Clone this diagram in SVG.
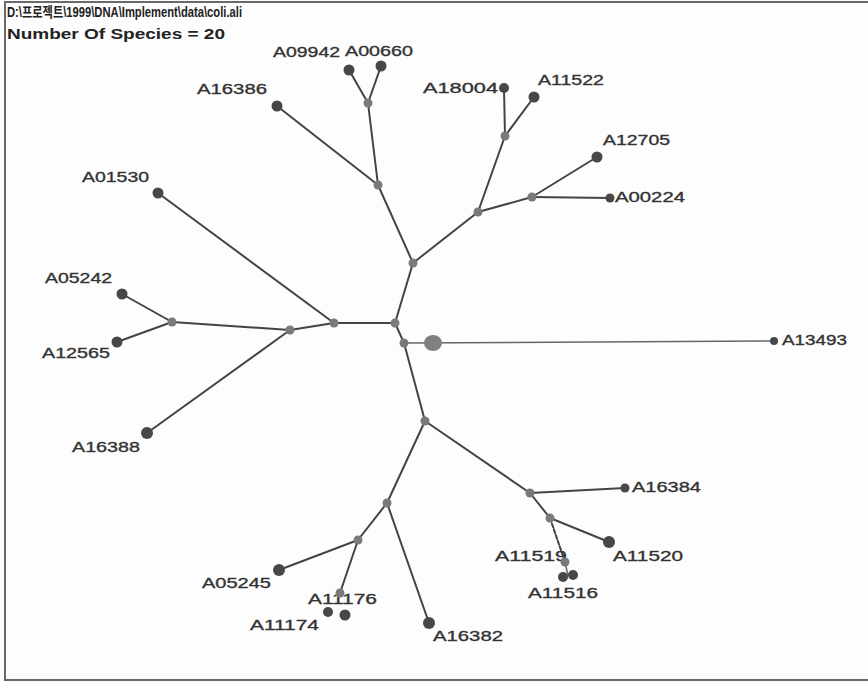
<svg xmlns="http://www.w3.org/2000/svg" width="868" height="682" viewBox="0 0 868 682">
<style>
.bg{fill:#fdfdfd}
.frame{fill:none;stroke:#6a6a6a;stroke-width:2}
.e{stroke:#444;stroke-width:2;fill:none;stroke-linecap:round}
.thin{stroke:#666;stroke-width:1.5;fill:none}
.leaf{fill:#474747}
.inner{fill:#7a7a7a}
.big{fill:#808080}
.lbl{font-family:"Liberation Sans",Arial,sans-serif;font-size:15px;fill:#333;stroke:#333;stroke-width:0.35}
.hdr{font-family:"Liberation Sans","Noto Sans CJK KR",sans-serif;font-size:14px;font-weight:bold;fill:#222}
</style>
<rect class="bg" x="0" y="0" width="868" height="682"/>
<path class="frame" d="M5,681 V2 H868 M5,680 H868"/>
<text class="hdr" x="7" y="17" textLength="235" lengthAdjust="spacingAndGlyphs">D:\프로젝트\1999\DNA\Implement\data\coli.ali</text>
<text class="hdr" x="7" y="39" textLength="218" lengthAdjust="spacingAndGlyphs">Number Of Species = 20</text>
<g id="connectors">
<line class="e" x1="395" y1="323" x2="404" y2="343"/>
<line class="e" x1="395" y1="323" x2="413" y2="263"/>
<line class="e" x1="413" y1="263" x2="378" y2="185"/>
<line class="e" x1="378" y1="185" x2="368" y2="103"/>
<line class="e" x1="368" y1="103" x2="349" y2="70"/>
<line class="e" x1="368" y1="103" x2="381" y2="66"/>
<line class="e" x1="378" y1="185" x2="277" y2="106"/>
<line class="e" x1="413" y1="263" x2="478" y2="212"/>
<line class="e" x1="478" y1="212" x2="505" y2="136"/>
<line class="e" x1="505" y1="136" x2="504" y2="88"/>
<line class="e" x1="505" y1="136" x2="534" y2="97"/>
<line class="e" x1="478" y1="212" x2="532" y2="197"/>
<line class="e" x1="532" y1="197" x2="597" y2="157"/>
<line class="e" x1="532" y1="197" x2="610" y2="198"/>
<line class="e" x1="395" y1="323" x2="334" y2="323"/>
<line class="e" x1="334" y1="323" x2="158" y2="193"/>
<line class="e" x1="334" y1="323" x2="290" y2="330"/>
<line class="e" x1="290" y1="330" x2="172" y2="322"/>
<line class="e" x1="172" y1="322" x2="122" y2="294"/>
<line class="e" x1="172" y1="322" x2="117" y2="342"/>
<line class="e" x1="290" y1="330" x2="147" y2="433"/>
<line class="thin" x1="404" y1="343" x2="773" y2="341"/>
<line class="e" x1="404" y1="343" x2="425" y2="421"/>
<line class="e" x1="425" y1="421" x2="387" y2="503"/>
<line class="e" x1="387" y1="503" x2="358" y2="540"/>
<line class="e" x1="358" y1="540" x2="279" y2="570"/>
<line class="e" x1="358" y1="540" x2="340" y2="593"/>
<line class="e" x1="387" y1="503" x2="429" y2="623"/>
<line class="e" x1="425" y1="421" x2="530" y2="493"/>
<line class="e" x1="530" y1="493" x2="625" y2="488"/>
<line class="e" x1="530" y1="493" x2="550" y2="518"/>
<line class="e" x1="550" y1="518" x2="609" y2="542"/>
<line class="e" x1="550" y1="518" x2="565" y2="562" stroke-dasharray="4 2"/>
<line class="thin" x1="565" y1="562" x2="568" y2="576"/>
</g>
<g id="n1"><circle class="inner" cx="395" cy="323" r="4.5"/></g>
<g id="n2"><circle class="inner" cx="404" cy="343" r="4.5"/></g>
<g id="n3"><circle class="inner" cx="413" cy="263" r="4.5"/></g>
<g id="n4"><circle class="inner" cx="378" cy="185" r="4.5"/></g>
<g id="n5"><circle class="inner" cx="368" cy="103" r="4.5"/></g>
<g id="n6"><circle class="inner" cx="478" cy="212" r="4.5"/></g>
<g id="n7"><circle class="inner" cx="505" cy="136" r="4.5"/></g>
<g id="n8"><circle class="inner" cx="532" cy="197" r="4.5"/></g>
<g id="n9"><circle class="inner" cx="334" cy="323" r="4.5"/></g>
<g id="n10"><circle class="inner" cx="290" cy="330" r="4.5"/></g>
<g id="n11"><circle class="inner" cx="172" cy="322" r="4.5"/></g>
<g id="n12"><circle class="inner" cx="425" cy="421" r="4.5"/></g>
<g id="n13"><circle class="inner" cx="387" cy="503" r="4.5"/></g>
<g id="n14"><circle class="inner" cx="358" cy="540" r="4.5"/></g>
<g id="n15"><circle class="inner" cx="530" cy="493" r="4.5"/></g>
<g id="n16"><circle class="inner" cx="550" cy="518" r="4.5"/></g>
<g id="center"><ellipse class="big" cx="433" cy="343" rx="9" ry="8"/></g>
<g id="A16386"><text class="lbl" x="197" y="94" textLength="70" lengthAdjust="spacingAndGlyphs">A16386</text><circle class="leaf" cx="277" cy="106" r="5.5"/></g>
<g id="A09942"><text class="lbl" x="273" y="57" textLength="67" lengthAdjust="spacingAndGlyphs">A09942</text><circle class="leaf" cx="349" cy="70" r="5.5"/></g>
<g id="A00660"><text class="lbl" x="345" y="56" textLength="68" lengthAdjust="spacingAndGlyphs">A00660</text><circle class="leaf" cx="381" cy="66" r="5.5"/></g>
<g id="A18004"><text class="lbl" x="423" y="93" textLength="75" lengthAdjust="spacingAndGlyphs">A18004</text><circle class="leaf" cx="504" cy="88" r="5"/></g>
<g id="A11522"><text class="lbl" x="538" y="85" textLength="66" lengthAdjust="spacingAndGlyphs">A11522</text><circle class="leaf" cx="534" cy="97" r="5.5"/></g>
<g id="A12705"><text class="lbl" x="603" y="145" textLength="67" lengthAdjust="spacingAndGlyphs">A12705</text><circle class="leaf" cx="597" cy="157" r="5.5"/></g>
<g id="A00224"><text class="lbl" x="615" y="202" textLength="70" lengthAdjust="spacingAndGlyphs">A00224</text><circle class="leaf" cx="610" cy="198" r="4.5"/></g>
<g id="A01530"><text class="lbl" x="82" y="182" textLength="67" lengthAdjust="spacingAndGlyphs">A01530</text><circle class="leaf" cx="158" cy="193" r="5.5"/></g>
<g id="A05242"><text class="lbl" x="45" y="283" textLength="67" lengthAdjust="spacingAndGlyphs">A05242</text><circle class="leaf" cx="122" cy="294" r="5.5"/></g>
<g id="A12565"><text class="lbl" x="42" y="358" textLength="68" lengthAdjust="spacingAndGlyphs">A12565</text><circle class="leaf" cx="117" cy="342" r="5.5"/></g>
<g id="A13493"><text class="lbl" x="782" y="345" textLength="65" lengthAdjust="spacingAndGlyphs">A13493</text><circle class="leaf" cx="774" cy="341" r="4"/></g>
<g id="A16388"><text class="lbl" x="72" y="452" textLength="68" lengthAdjust="spacingAndGlyphs">A16388</text><circle class="leaf" cx="147" cy="433" r="6"/></g>
<g id="A16384"><text class="lbl" x="632" y="492" textLength="69" lengthAdjust="spacingAndGlyphs">A16384</text><circle class="leaf" cx="625" cy="488" r="4.5"/></g>
<g id="A11520"><text class="lbl" x="613" y="561" textLength="70" lengthAdjust="spacingAndGlyphs">A11520</text><circle class="leaf" cx="609" cy="542" r="6"/></g>
<g id="A11519"><text class="lbl" x="495" y="561" textLength="72" lengthAdjust="spacingAndGlyphs">A11519</text><circle class="inner" cx="565" cy="562" r="4.5"/></g>
<g id="A11516"><text class="lbl" x="528" y="598" textLength="70" lengthAdjust="spacingAndGlyphs">A11516</text><circle class="leaf" cx="563" cy="577" r="5"/><circle class="leaf" cx="573" cy="575" r="5"/></g>
<g id="A05245"><text class="lbl" x="202" y="588" textLength="69" lengthAdjust="spacingAndGlyphs">A05245</text><circle class="leaf" cx="279" cy="570" r="6"/></g>
<g id="A11176"><text class="lbl" x="308" y="604" textLength="69" lengthAdjust="spacingAndGlyphs">A11176</text><circle class="inner" cx="340" cy="593" r="4.5"/></g>
<g id="A11174"><text class="lbl" x="250" y="630" textLength="69" lengthAdjust="spacingAndGlyphs">A11174</text><circle class="leaf" cx="328" cy="612" r="5"/><circle class="leaf" cx="345" cy="615" r="5.5"/></g>
<g id="A16382"><text class="lbl" x="433" y="641" textLength="70" lengthAdjust="spacingAndGlyphs">A16382</text><circle class="leaf" cx="429" cy="623" r="6"/></g>
</svg>
